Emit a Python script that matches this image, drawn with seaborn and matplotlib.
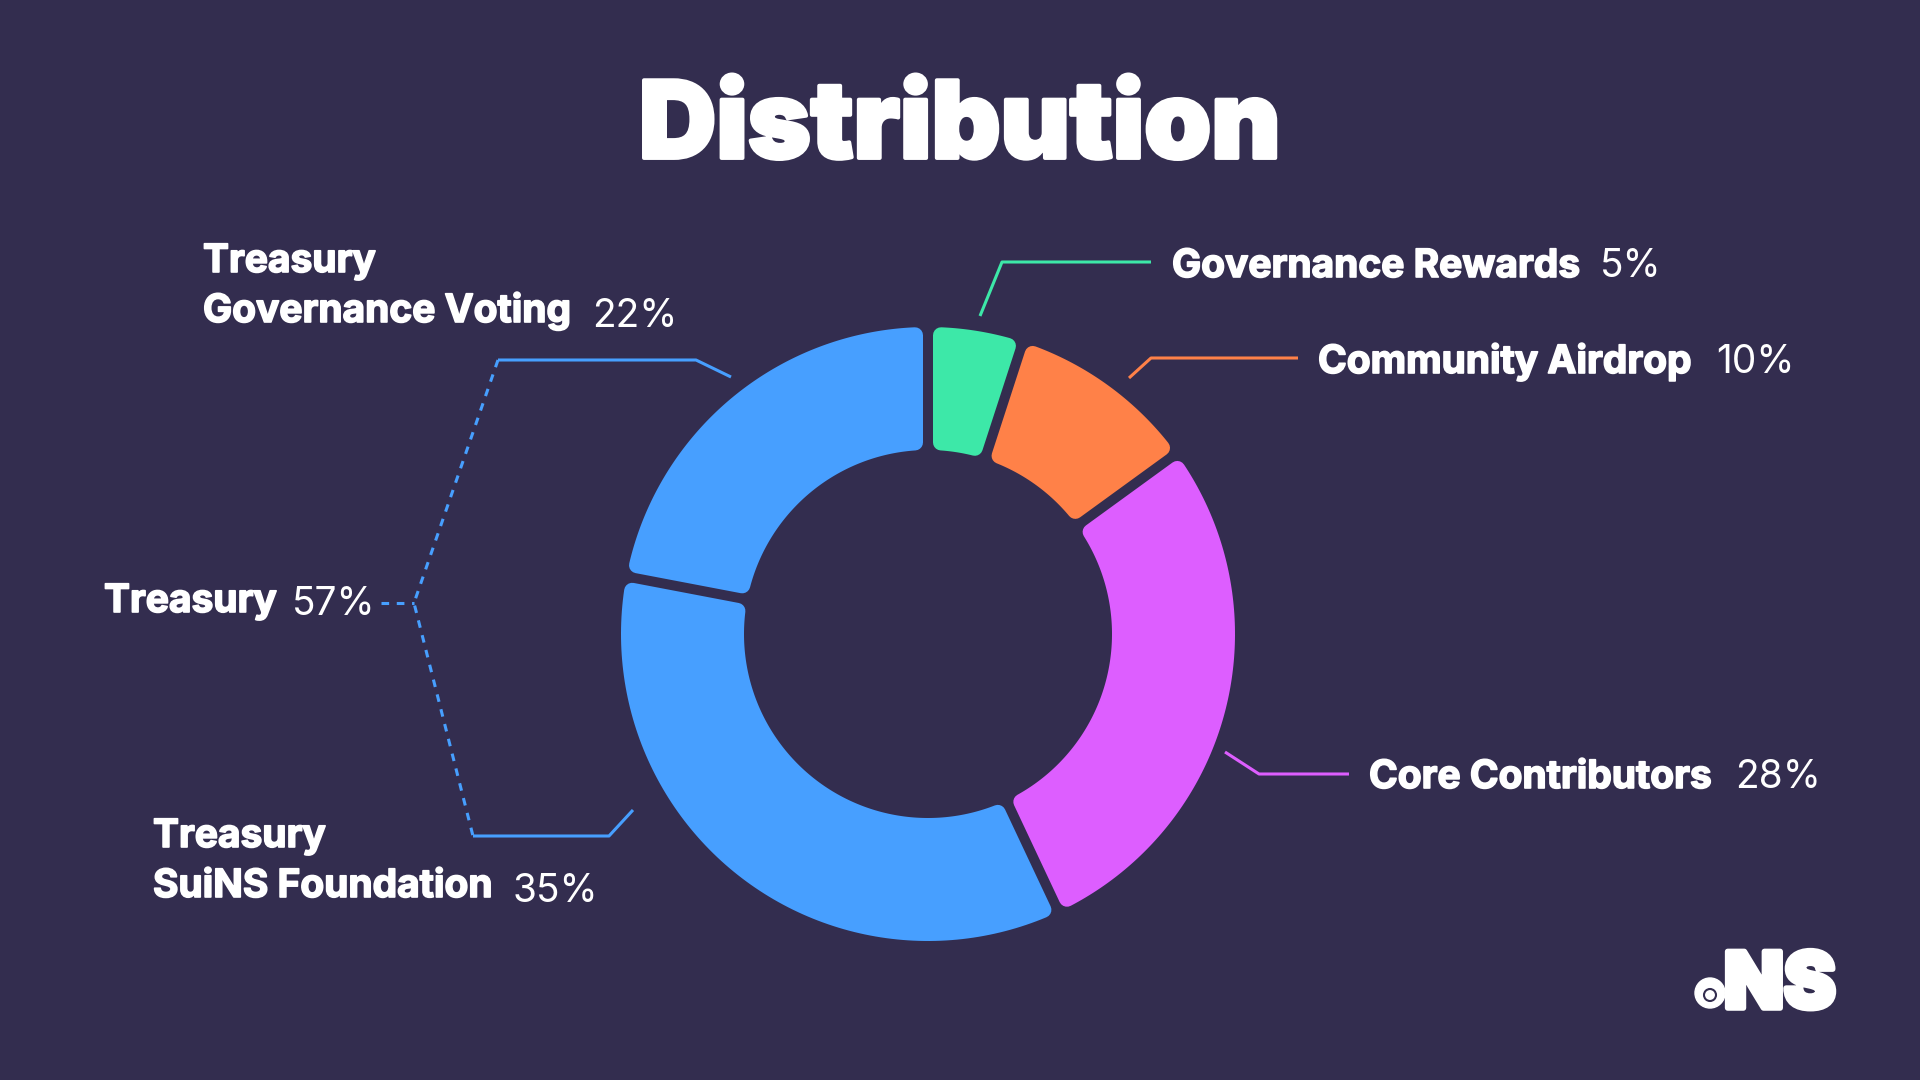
import numpy as np
import matplotlib.pyplot as plt
import matplotlib.patheffects as pe
from matplotlib.patches import Polygon, Circle
import seaborn as sns

# data
labels = ["Governance Rewards", "Community Airdrop", "Core Contributors",
          "Treasury\nSuiNS Foundation", "Treasury\nGovernance Voting"]
shares = [5, 10, 28, 35, 22]
colors = ["#3DE8A8", "#FF8148", "#DD5EFF", "#479FFF", "#479FFF"]
group_label = "Treasury"
group_share = 57
title = "Distribution"

BG = "#332D4F"
W, H = 1920, 1080

sns.set_theme(style="white", rc={"figure.facecolor": BG, "axes.facecolor": BG})
plt.rcParams["font.family"] = ["Inter", "DejaVu Sans"]


def px(y):
    # image rows (top down) -> data y (bottom up)
    return H - y


def rounded_slice(wedge, gap, corner):
    cx, cy = wedge.center
    r_out = wedge.r - corner
    r_in = wedge.r - wedge.width + corner
    d = gap / 2 + corner
    t1, t2 = np.radians(wedge.theta1), np.radians(wedge.theta2)
    a_out, a_in = np.arcsin(d / r_out), np.arcsin(d / r_in)
    phi_o = np.linspace(t1 + a_out, t2 - a_out, 120)
    phi_i = np.linspace(t2 - a_in, t1 + a_in, 120)
    xs = np.r_[cx + r_out * np.cos(phi_o), cx + r_in * np.cos(phi_i)]
    ys = np.r_[cy + r_out * np.sin(phi_o), cy + r_in * np.sin(phi_i)]
    fc = wedge.get_facecolor()
    return Polygon(np.c_[xs, ys], closed=True, facecolor=fc, edgecolor=fc,
                   linewidth=2 * corner * 0.72, joinstyle="round", zorder=2)


fig = plt.figure(figsize=(19.2, 10.8), dpi=100)
ax = fig.add_axes([0, 0, 1, 1])

R_OUT, RING = 307, 123
wedges, _ = ax.pie(shares, colors=colors, startangle=90, counterclock=False,
                   radius=R_OUT, center=(928, px(634)),
                   wedgeprops=dict(width=RING))
for w in wedges:
    ax.add_patch(rounded_slice(w, gap=10, corner=8))
    w.set_visible(False)

ax.set_xlim(0, W)
ax.set_ylim(0, H)
ax.set_aspect("equal")
ax.axis("off")

ax.text(960, px(158), title, ha="center", va="baseline", color="white",
        fontsize=77, fontweight="black",
        path_effects=[pe.withStroke(linewidth=2.8, foreground="white")])

# leader lines (image coords)
leaders = [
    [(980, 316), (1002, 262), (1151, 262)],
    [(1129, 378), (1151, 358), (1298, 358)],
    [(1225, 752), (1259, 774), (1349, 774)],
    [(633, 810), (609, 836), (473, 836)],
    [(731, 377), (696, 360), (498, 360)],
]
for pts, c in zip(leaders, colors):
    xs, ys = zip(*pts)
    ax.plot(xs, [px(y) for y in ys], color=c, lw=2.2, solid_capstyle="butt")

brace = [(498, 360), (414, 603), (473, 836)]
xs, ys = zip(*brace)
ax.plot(xs, [px(y) for y in ys], color=colors[3], lw=2.2, ls=(0, (2.5, 2.5)))
ax.plot([381, 414], [px(603), px(603)], color=colors[3], lw=2.2, ls=(0, (2.5, 2.5)))

# label anchors: (x, first baseline, pct x, pct baseline)
anchors = [
    (1172, 277, 1600, 277),
    (1318, 373, 1716, 373),
    (1369, 788, 1735, 788),
    (153, 847, 513, 902),
    (203, 272, 592, 327),
]
bold = [pe.withStroke(linewidth=1.2, foreground="white")]
for (lx, ly, qx, qy), lab, val in zip(anchors, labels, shares):
    for i, line in enumerate(lab.split("\n")):
        ax.text(lx, px(ly + 50 * i), line, ha="left", va="baseline",
                color="white", fontsize=28, fontweight="bold", path_effects=bold)
    ax.text(qx, px(qy), f"{val}%", ha="left", va="baseline", color="white",
            fontsize=28, fontweight="normal")

ax.text(104, px(612), group_label, ha="left", va="baseline", color="white",
        fontsize=28, fontweight="bold", path_effects=bold)
ax.text(292, px(615), f"{group_share}%", ha="left", va="baseline", color="white",
        fontsize=28, fontweight="normal")

# .NS mark
ax.add_patch(Circle((1710, px(993)), 15, color="white", zorder=3))
ax.add_patch(Circle((1710, px(995)), 6, facecolor="none", edgecolor=BG, lw=1.5, zorder=4))
ax.text(1724, px(1008), "NS", ha="left", va="baseline", color="white",
        fontsize=56, fontweight="black",
        path_effects=[pe.withStroke(linewidth=4, foreground="white")])

fig.savefig("out.png", dpi=100, facecolor=BG)
